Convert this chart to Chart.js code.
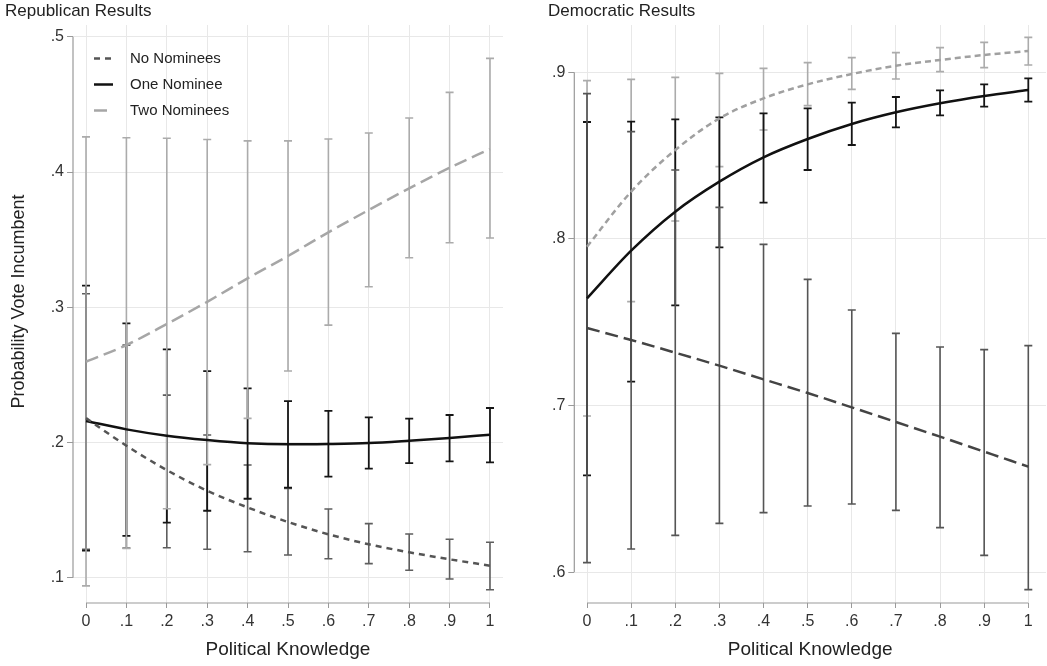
<!DOCTYPE html>
<html>
<head>
<meta charset="utf-8">
<title>Probability Vote Incumbent by Political Knowledge</title>
<script src="https://cdn.jsdelivr.net/npm/chart.js@4.4.1/dist/chart.umd.min.js"></script>
<style>
	body { margin: 0; background: #fff; }
	.panel { position: absolute; top: 0; height: 666px; }
	#rep { left: 0; width: 520px; }
	#dem { left: 543px; width: 504px; }
</style>
</head>
<body>
<div class="panel" id="rep"><canvas id="repChart"></canvas></div>
<div class="panel" id="dem"><canvas id="demChart"></canvas></div>
<script>
	const knowledge = [0, .1, .2, .3, .4, .5, .6, .7, .8, .9, 1];

	// Republican incumbents
	const repNone     = [0.218, 0.1976, 0.1796, 0.1643, 0.152, 0.1412, 0.1321, 0.1247, 0.1188, 0.1136, 0.1089];
	const repNoneLow  = [0.121, 0.122, 0.1222, 0.121, 0.1192, 0.1168, 0.114, 0.1104, 0.1055, 0.099, 0.0911];
	const repNoneHigh = [0.31, 0.272, 0.235, 0.2055, 0.1833, 0.166, 0.1508, 0.14, 0.1323, 0.1284, 0.1262];

	const repOne      = [0.2159, 0.2097, 0.205, 0.2018, 0.1994, 0.1986, 0.1989, 0.1996, 0.2013, 0.2033, 0.2057];
	const repOneLow   = [0.12, 0.131, 0.1407, 0.1495, 0.1584, 0.1666, 0.1747, 0.1806, 0.1848, 0.186, 0.1853];
	const repOneHigh  = [0.316, 0.288, 0.2689, 0.2528, 0.24, 0.2306, 0.2233, 0.2186, 0.2176, 0.2203, 0.2255];

	const repTwo      = [0.2597, 0.272, 0.2876, 0.304, 0.3214, 0.3379, 0.3554, 0.3719, 0.3879, 0.4031, 0.417];
	const repTwoLow   = [0.094, 0.1217, 0.151, 0.1836, 0.2178, 0.2528, 0.2868, 0.3152, 0.3366, 0.3477, 0.3512];
	const repTwoHigh  = [0.426, 0.4253, 0.425, 0.424, 0.423, 0.423, 0.4244, 0.4288, 0.4399, 0.4589, 0.484];

	// Democratic incumbents
	const demGray      = [0.7954, 0.8284, 0.8534, 0.8724, 0.8844, 0.8928, 0.899, 0.904, 0.9074, 0.9104, 0.9128];
	const demGrayLow   = [0.6938, 0.7624, 0.8108, 0.8434, 0.8654, 0.88, 0.8898, 0.896, 0.9004, 0.9028, 0.9044];
	const demGrayHigh  = [0.895, 0.8958, 0.897, 0.8994, 0.9024, 0.9058, 0.9088, 0.9118, 0.9148, 0.918, 0.921];

	const demSolid     = [0.7644, 0.793, 0.8164, 0.8344, 0.849, 0.86, 0.869, 0.876, 0.8814, 0.8858, 0.8894];
	const demSolidLow  = [0.6582, 0.7144, 0.7602, 0.795, 0.8218, 0.8414, 0.8564, 0.867, 0.8742, 0.8794, 0.8824];
	const demSolidHigh = [0.8702, 0.8704, 0.8718, 0.873, 0.8754, 0.8784, 0.8818, 0.8852, 0.8892, 0.8928, 0.8964];

	const demDark      = [0.7466, 0.7394, 0.7318, 0.724, 0.7158, 0.7076, 0.699, 0.6902, 0.6814, 0.6724, 0.6634];
	const demDarkLow   = [0.6058, 0.614, 0.6222, 0.6294, 0.6358, 0.6398, 0.641, 0.6372, 0.6268, 0.6102, 0.5896];
	const demDarkHigh  = [0.8872, 0.8644, 0.8414, 0.819, 0.7968, 0.7758, 0.7574, 0.7434, 0.7352, 0.7336, 0.736];

	const repTicks = [.1, .2, .3, .4, .5];
	const demTicks = [.6, .7, .8, .9];

	const FONT = '"Liberation Sans", Arial, Helvetica, sans-serif';
	Chart.defaults.font.family = FONT;
	Chart.defaults.color = '#333';

	function fmt(v) {
		if (v === 0) return '0';
		if (v === 1) return '1';
		return v.toFixed(1).replace(/^0/, '');
	}

	function series(label, vals, low, high, color, dash, barColor, barWidth, keyLen) {
		return {
			label: label,
			data: knowledge.map((k, i) => ({x: k, y: vals[i]})),
			borderColor: color,
			borderWidth: 2.5,
			borderDash: dash,
			pointRadius: 0,
			cubicInterpolationMode: 'monotone',
			fill: false,
			errLow: low,
			errHigh: high,
			errColor: barColor,
			errWidth: barWidth,
			keyLen: keyLen
		};
	}

	// vertical confidence intervals with caps, under the lines
	const errorBars = {
		id: 'errorBars',
		beforeDatasetsDraw(chart) {
			const {ctx, scales: {x, y}} = chart;
			ctx.save();
			chart.data.datasets.forEach(ds => {
				ctx.strokeStyle = ds.errColor;
				ctx.lineWidth = ds.errWidth;
				knowledge.forEach((k, i) => {
					const px = x.getPixelForValue(k);
					const top = y.getPixelForValue(ds.errHigh[i]);
					const bot = y.getPixelForValue(ds.errLow[i]);
					ctx.beginPath();
					ctx.moveTo(px, top); ctx.lineTo(px, bot);
					ctx.moveTo(px - 4, top); ctx.lineTo(px + 4, top);
					ctx.moveTo(px - 4, bot); ctx.lineTo(px + 4, bot);
					ctx.stroke();
				});
			});
			ctx.restore();
		}
	};

	// axis lines only span the labelled range
	const axisLines = {
		id: 'axisLines',
		afterDraw(chart, args, opts) {
			const {ctx, chartArea, scales: {x, y}} = chart;
			const yt = opts.ticks;
			ctx.save();
			ctx.strokeStyle = '#9a9a9a';
			ctx.lineWidth = 1.2;
			ctx.beginPath();
			ctx.moveTo(x.getPixelForValue(0), chartArea.bottom);
			ctx.lineTo(x.getPixelForValue(1), chartArea.bottom);
			ctx.moveTo(chartArea.left, y.getPixelForValue(yt[0]));
			ctx.lineTo(chartArea.left, y.getPixelForValue(yt[yt.length - 1]));
			ctx.stroke();
			ctx.restore();
		}
	};

	const keyBox = {
		id: 'keyBox',
		afterDraw(chart, args, opts) {
			if (!opts.show) return;
			const {ctx} = chart;
			ctx.save();
			ctx.font = '15px ' + FONT;
			ctx.textBaseline = 'middle';
			chart.data.datasets.forEach((ds, i) => {
				const yy = 58.5 + i * 26;
				ctx.strokeStyle = ds.borderColor;
				ctx.lineWidth = 2.5;
				ctx.setLineDash(ds.borderDash);
				ctx.beginPath();
				ctx.moveTo(94, yy); ctx.lineTo(94 + ds.keyLen, yy);
				ctx.stroke();
				ctx.setLineDash([]);
				ctx.fillStyle = '#222';
				ctx.fillText(ds.label, 130, yy);
			});
			ctx.restore();
		}
	};

	const yTitle = {
		id: 'yTitle',
		afterDraw(chart, args, opts) {
			if (!opts.text) return;
			const {ctx} = chart;
			ctx.save();
			ctx.translate(19, 301.5);
			ctx.rotate(-Math.PI / 2);
			ctx.font = '18px ' + FONT;
			ctx.fillStyle = '#222';
			ctx.textAlign = 'center';
			ctx.textBaseline = 'middle';
			ctx.fillText(opts.text, 0, 0);
			ctx.restore();
		}
	};

	function panel(id, cfg) {
		new Chart(document.getElementById(id), {
			type: 'line',
			data: {datasets: cfg.datasets},
			plugins: [errorBars, axisLines, keyBox, yTitle],
			options: {
				responsive: true,
				maintainAspectRatio: false,
				animation: false,
				layout: {padding: {left: 5, right: cfg.padRight, top: 0, bottom: 0}},
				scales: {
					x: {
						type: 'linear',
						min: cfg.xMin,
						max: cfg.xMax,
						afterBuildTicks: s => { s.ticks = knowledge.map(v => ({value: v})); },
						afterFit: s => { s.height = 63; },
						border: {display: false},
						grid: {color: '#e8e8e8', lineWidth: 1, tickLength: 5, tickColor: '#9a9a9a'},
						ticks: {font: {size: 16}, padding: 4, maxRotation: 0, callback: v => fmt(v)},
						title: {display: true, text: 'Political Knowledge', font: {size: 19}, color: '#222', padding: {top: 4, bottom: 5}}
					},
					y: {
						min: cfg.yMin,
						max: cfg.yMax,
						afterBuildTicks: s => { s.ticks = cfg.yTicks.map(v => ({value: v})); },
						afterFit: s => { s.width = cfg.yWidth; },
						border: {display: false},
						grid: {color: '#e8e8e8', lineWidth: 1, tickLength: 6, tickColor: '#9a9a9a'},
						ticks: {font: {size: 16}, padding: 3, callback: v => fmt(v)}
					}
				},
				plugins: {
					legend: {display: false},
					tooltip: {enabled: false},
					title: {
						display: true,
						text: cfg.title,
						align: 'start',
						color: '#222',
						font: {size: 17, weight: 'normal'},
						padding: {top: 1, bottom: 3.6}
					},
					axisLines: {ticks: cfg.yTicks},
					keyBox: {show: cfg.key},
					yTitle: {text: cfg.yTitle}
				}
			}
		});
	}

	panel('repChart', {
		title: 'Republican Results',
		yTitle: 'Probability Vote Incumbent',
		key: true,
		padRight: 17,
		yWidth: 68,
		xMin: -0.0322,
		xMax: 1.0322,
		yMin: 0.0813,
		yMax: 0.5087,
		yTicks: repTicks,
		datasets: [
			series('No Nominees', repNone, repNoneLow, repNoneHigh, '#555555', [6, 5], '#5e5e5e', 1.6, 19),
			series('One Nominee', repOne, repOneLow, repOneHigh, '#111111', [], '#151515', 1.8, 19),
			series('Two Nominees', repTwo, repTwoLow, repTwoHigh, '#a6a6a6', [13, 6], '#ababab', 1.6, 13)
		]
	});

	panel('demChart', {
		title: 'Democratic Results',
		yTitle: '',
		key: false,
		padRight: 1,
		yWidth: 26.3,
		xMin: -0.0288,
		xMax: 1.0401,
		yMin: 0.5816,
		yMax: 0.9284,
		yTicks: demTicks,
		datasets: [
			series('Gray', demGray, demGrayLow, demGrayHigh, '#a0a0a0', [6, 4], '#ababab', 1.6, 19),
			series('Solid', demSolid, demSolidLow, demSolidHigh, '#111111', [], '#151515', 1.8, 19),
			series('Dark', demDark, demDarkLow, demDarkHigh, '#444444', [13, 6], '#555555', 1.6, 19)
		]
	});
</script>
</body>
</html>
